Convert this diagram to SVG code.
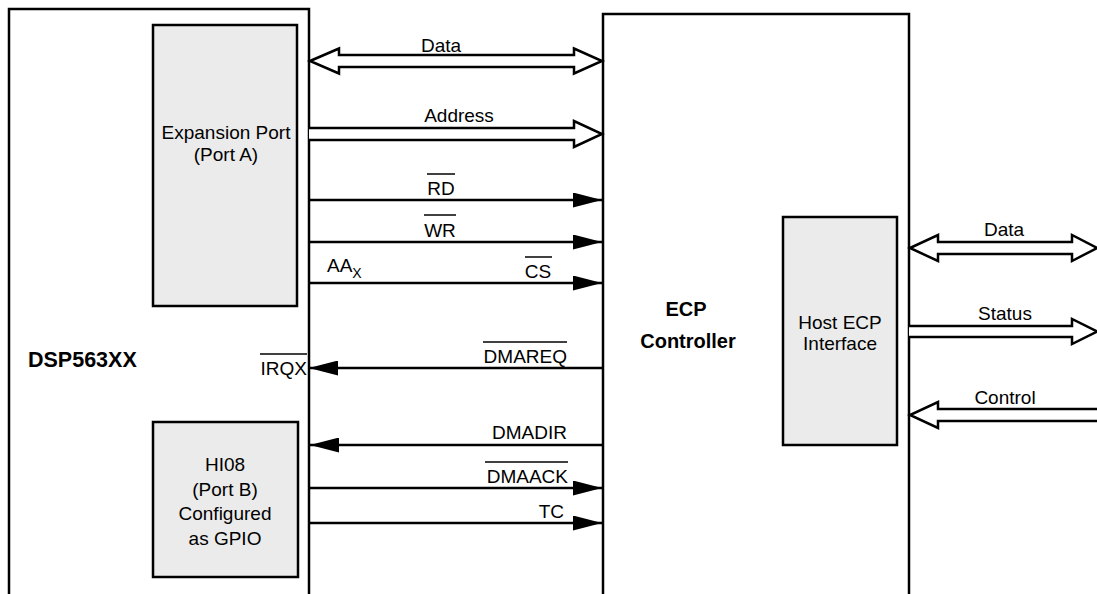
<svg xmlns="http://www.w3.org/2000/svg" width="1097" height="594" viewBox="0 0 1097 594">
<style>
.box{fill:#fff;stroke:#000;stroke-width:2.5}
.inner{fill:#ebebeb;stroke:#000;stroke-width:2.5}
.t{font-family:"Liberation Sans",Arial,sans-serif;font-size:19px;fill:#000}
.b{font-family:"Liberation Sans",Arial,sans-serif;font-size:20px;font-weight:bold;fill:#000}
.m{text-anchor:middle}
.e{text-anchor:end}
.sig{stroke:#000;stroke-width:2.5;fill:none;marker-end:url(#ah)}
.bus{fill:#fff;stroke:#000;stroke-width:2.5;stroke-linejoin:miter}
.ov{stroke:#000;stroke-width:1.5}
</style>
<defs>
<marker id="ah" viewBox="0 0 29 15" refX="29" refY="7.5" markerWidth="29" markerHeight="15" markerUnits="userSpaceOnUse" orient="auto">
<path d="M0,0 L29,7.5 L0,15 Z" fill="#000"/>
</marker>
</defs>
<g id="dsp">
<rect class="box" x="9" y="9" width="300" height="600"/>
<text class="b" x="28" y="367" style="font-size:21.5px">DSP563XX</text>
</g>
<g id="ecp">
<rect class="box" x="603" y="14" width="306" height="600"/>
<text class="b m" x="686" y="316">ECP</text>
<text class="b m" x="688" y="348">Controller</text>
</g>
<g id="expansion-port">
<rect class="inner" x="153" y="25" width="144" height="281"/>
<text class="t m" x="226" y="139">Expansion Port</text>
<text class="t m" x="226" y="161">(Port A)</text>
</g>
<g id="hi08">
<rect class="inner" x="153" y="422" width="145" height="155"/>
<text class="t m" x="225" y="471">HI08</text>
<text class="t m" x="225" y="495.5">(Port B)</text>
<text class="t m" x="225" y="520">Configured</text>
<text class="t m" x="225" y="544.5">as GPIO</text>
</g>
<g id="host-ecp">
<rect class="inner" x="783" y="217" width="114" height="228"/>
<text class="t m" x="840" y="329">Host ECP</text>
<text class="t m" x="840" y="350">Interface</text>
</g>
<g id="connectors">
<polygon class="bus" points="310,61 339,48.5 339,55 574,55 574,48.5 602,61 574,73.5 574,67 339,67 339,73.5"/>
<text class="t m" x="441" y="52">Data</text>
<polyline class="bus" points="309,128 574,128 574,121 602,134 574,147 574,140 309,140"/>
<text class="t m" x="459" y="122">Address</text>
<line class="sig" x1="309" y1="200" x2="602" y2="200"/>
<text class="t m" x="441" y="195">RD</text>
<line class="ov" x1="427" y1="174" x2="455" y2="174"/>
<line class="sig" x1="309" y1="242" x2="602" y2="242"/>
<text class="t m" x="440" y="237">WR</text>
<line class="ov" x1="424" y1="215" x2="456" y2="215"/>
<line class="sig" x1="309" y1="283" x2="602" y2="283"/>
<text class="t" x="327" y="272">AA<tspan style="font-size:14px" dy="6">X</tspan></text>
<text class="t m" x="538" y="278">CS</text>
<line class="ov" x1="525" y1="257" x2="552" y2="257"/>
<line class="sig" x1="602" y1="368" x2="309" y2="368"/>
<text class="t e" x="567" y="363">DMAREQ</text>
<line class="ov" x1="483" y1="342" x2="567" y2="342"/>
<text class="t e" x="307" y="375">IRQX</text>
<line class="ov" x1="260" y1="354" x2="307" y2="354"/>
<line class="sig" x1="602" y1="445" x2="310" y2="445"/>
<text class="t e" x="567" y="439">DMADIR</text>
<line class="sig" x1="309" y1="488" x2="602" y2="488"/>
<text class="t e" x="568" y="483">DMAACK</text>
<line class="ov" x1="485" y1="462" x2="568" y2="462"/>
<line class="sig" x1="309" y1="523" x2="602" y2="523"/>
<text class="t e" x="564" y="518">TC</text>
<polygon class="bus" points="910,248 938,235 938,242 1072,242 1072,235 1097,248 1072,261 1072,254 938,254 938,261"/>
<text class="t m" x="1004" y="236">Data</text>
<polyline class="bus" points="909,326 1072,326 1072,319 1097,331.5 1072,344 1072,337 909,337"/>
<text class="t m" x="1005" y="320">Status</text>
<polyline class="bus" points="1099,409 938,409 938,402 910,415 938,428 938,421 1099,421"/>
<text class="t m" x="1005" y="404">Control</text>
</g>
</svg>
